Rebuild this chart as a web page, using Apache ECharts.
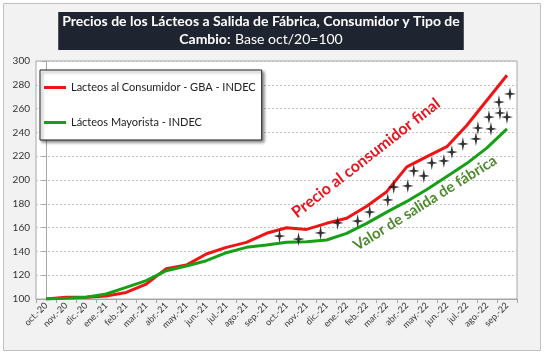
<!DOCTYPE html>
<html>
<head>
<meta charset="utf-8">
<script src="https://cdn.jsdelivr.net/npm/echarts@6/dist/echarts.min.js"></script>
<style>
  html, body { margin: 0; padding: 0; background: #fff; }
  #chart { width: 544px; height: 354px; }
</style>
</head>
<body>
<div id="chart"></div>
<script>
// categorias (meses)
var months = ["oct.-20", "nov.-20", "dic.-20", "ene.-21", "feb.-21", "mar.-21", "abr.-21", "may.-21",
  "jun.-21", "jul.-21", "ago.-21", "sep.-21", "oct.-21", "nov.-21", "dic.-21", "ene.-22",
  "feb.-22", "mar.-22", "abr.-22", "may.-22", "jun.-22", "jul.-22", "ago.-22", "sep.-22"];

// Lacteos al Consumidor - GBA - INDEC
var consumidor = [100, 101.4, 101.5, 102.5, 105.5, 112.5, 125.5, 128.5, 137.8, 143.4, 147.6, 155.2,
  159.9, 158.5, 163.6, 167.8, 178, 190.2, 211, 219.6, 228, 246, 267, 288];

// Lacteos Mayorista - INDEC
var mayorista = [100, 100.6, 101.5, 104.2, 109.8, 115.4, 123.8, 127.7, 132.2, 138.9, 143.4, 145.4,
  147.6, 148.2, 149.6, 155.2, 163.6, 173, 182, 192, 203, 214, 227, 243];

// estrellas (posicion en meses desde oct-20, valor)
var starX = [11.65, 12.6, 13.7, 14.55, 15.55, 16.15, 17.05, 17.35, 18.05, 18.35, 18.85, 19.25,
  19.85, 20.25, 20.8, 21.45, 21.55, 22.2, 22.1, 22.6, 22.65, 23.0, 23.15];
var starY = [152.9, 150.4, 155.5, 163.9, 165.5, 173.1, 183.2, 194.1, 195.0, 207.6, 203.4, 214.3,
  216.0, 223.5, 230.3, 234.5, 243.7, 242.9, 252.9, 265.5, 256.3, 252.9, 272.3];

var yTicks = { min: 100, max: 300, interval: 20 };

var stars = starX.map(function (x, i) { return [x, starY[i]]; });
var font = "Lato, 'Noto Sans', sans-serif";

var chart = echarts.init(document.getElementById("chart"));
chart.setOption({
  backgroundColor: "#fff",
  animation: false,
  textStyle: { fontFamily: font },
  title: {
    left: 257,
    top: 10,
    textAlign: "center",
    text: "{b|Precios de los Lácteos a Salida de Fábrica, Consumidor y Tipo de}\n{b|Cambio:} {n|Base oct/20=100}",
    backgroundColor: "#1f2530",
    padding: [2, 4, 2, 4],
    textStyle: {
      fontWeight: "normal",
      rich: {
        b: { color: "#fff", fontWeight: "bold", fontSize: 14, fontFamily: font, lineHeight: 18 },
        n: { color: "#fff", fontWeight: "normal", fontSize: 14, fontFamily: font, lineHeight: 18 }
      }
    }
  },
  legend: {
    orient: "vertical",
    left: 40,
    top: 70,
    data: ["Lacteos al Consumidor - GBA - INDEC", "Lácteos Mayorista - INDEC"],
    itemWidth: 22,
    itemHeight: 3,
    itemGap: 24,
    padding: [12, 6, 12, 4],
    backgroundColor: "#fff",
    borderColor: "#222",
    borderWidth: 1,
    shadowColor: "rgba(0,0,0,0.45)",
    shadowBlur: 3,
    shadowOffsetX: 2,
    shadowOffsetY: 2,
    icon: "rect",
    textStyle: { fontSize: 11, color: "#222", fontFamily: font }
  },
  grid: {
    left: 36, right: 27, top: 61, bottom: 55,
    show: true, backgroundColor: "#fff", borderColor: "#a6a6a6", borderWidth: 1
  },
  xAxis: [{
    type: "category",
    data: months,
    boundaryGap: true,
    axisLine: { lineStyle: { color: "#a6a6a6" } },
    axisTick: { show: true, length: 4, lineStyle: { color: "#a6a6a6" } },
    axisLabel: { rotate: 45, fontSize: 9, color: "#333", margin: 5, interval: 0 }
  }, {
    type: "value",
    min: -0.5, max: 23.5,
    show: false
  }],
  yAxis: {
    type: "value",
    min: yTicks.min, max: yTicks.max, interval: yTicks.interval,
    axisLine: { show: true, lineStyle: { color: "#a6a6a6" } },
    axisTick: { show: true, length: 4, lineStyle: { color: "#a6a6a6" } },
    axisLabel: { fontSize: 10, color: "#333", margin: 6 },
    splitLine: { lineStyle: { color: "#bfbfbf", type: [2, 2] } }
  },
  graphic: [{
    type: "rect", z: -10, silent: true,
    shape: { x: 3.5, y: 3.5, width: 537, height: 347 },
    style: { fill: "#f2f2f2", stroke: "#c0c0c0", lineWidth: 1 }
  }, {
    type: "text", z: 50, x: 366, y: 158, rotation: 38 * Math.PI / 180,
    style: {
      text: "Precio al consumidor final", fill: "#e8141e", font: "bold 16px " + font,
      align: "center", verticalAlign: "middle"
    }
  }, {
    type: "text", z: 50, x: 425, y: 203, rotation: 32 * Math.PI / 180,
    style: {
      text: "Valor de salida de fábrica", fill: "#4e8a2e", font: "bold 15px " + font,
      align: "center", verticalAlign: "middle"
    }
  }],
  series: [{
    name: "Lacteos al Consumidor - GBA - INDEC",
    type: "line",
    data: consumidor,
    symbol: "none",
    lineStyle: { color: "#f01414", width: 3 },
    itemStyle: { color: "#f01414" },
    z: 3
  }, {
    name: "Lácteos Mayorista - INDEC",
    type: "line",
    data: mayorista,
    symbol: "none",
    lineStyle: { color: "#16a016", width: 3 },
    itemStyle: { color: "#16a016" },
    z: 3
  }, {
    name: "estrellas",
    type: "scatter",
    xAxisIndex: 1,
    data: stars,
    symbol: "path://M0,-10 L1.6,-1.6 L8,0 L1.6,1.6 L0,10 L-1.6,1.6 L-8,0 L-1.6,-1.6 Z",
    symbolSize: [12, 14],
    itemStyle: { color: "#000" },
    z: 4
  }]
});
</script>
</body>
</html>
